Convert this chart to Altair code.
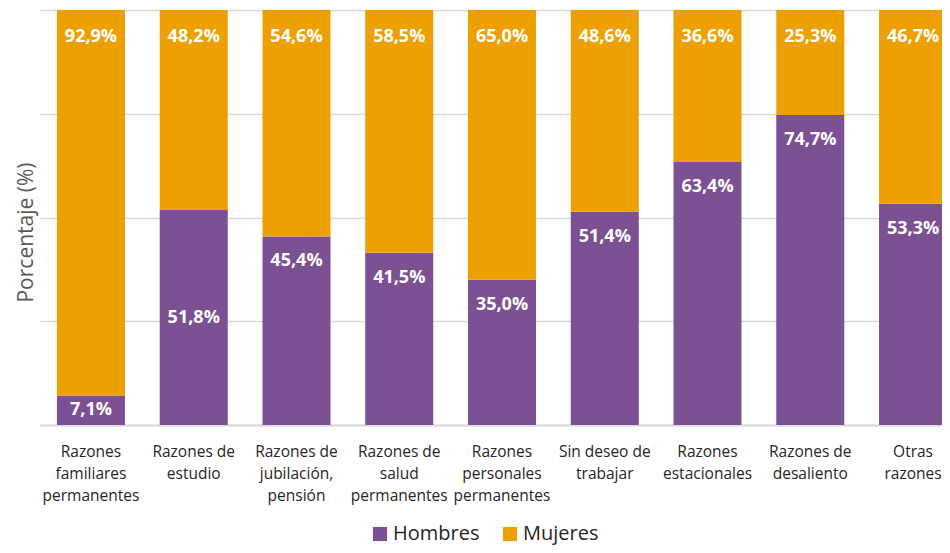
import altair as alt
import pandas as pd

categorias = [
    "Razones|familiares|permanentes",
    "Razones de|estudio",
    "Razones de|jubilación,|pensión",
    "Razones de|salud|permanentes",
    "Razones|personales|permanentes",
    "Sin deseo de|trabajar",
    "Razones|estacionales",
    "Razones de|desaliento",
    "Otras|razones",
]
hombres = [7.1, 51.8, 45.4, 41.5, 35.0, 51.4, 63.4, 74.7, 53.3]
mujeres = [92.9, 48.2, 54.6, 58.5, 65.0, 48.6, 36.6, 25.3, 46.7]
series = ["Hombres", "Mujeres"]
colores = ["#7B5194", "#EDA002"]

rows = []
for c, h, m in zip(categorias, hombres, mujeres):
    rows.append({"cat": c, "sexo": "Hombres", "val": h, "ord": 0})
    rows.append({"cat": c, "sexo": "Mujeres", "val": m, "ord": 1})
df = pd.DataFrame(rows)

FONT = "Open Sans"

x_enc = alt.X(
    "cat:N",
    sort=categorias,
    title=None,
    scale=alt.Scale(paddingInner=0.338, paddingOuter=0.165, range=[0, 924]),
    axis=alt.Axis(
        labelExpr="split(datum.label, '|')",
        labelAngle=0,
        labelFont=FONT,
        labelFontSize=15.5,
        labelColor="#262626",
        labelLineHeight=22,
        labelPadding=19,
        labelBaseline="top",
        ticks=False,
        domainColor="#d9d9d9",
        domainWidth=2,
        grid=False,
    ),
)

bars = alt.Chart(df).mark_bar().encode(
    x=x_enc,
    y=alt.Y(
        "val:Q",
        stack="zero",
        scale=alt.Scale(domain=[0, 100], nice=False),
        axis=alt.Axis(
            title="Porcentaje (%)",
            titleFont=FONT,
            titleFontSize=21,
            titleFontWeight="normal",
            titleColor="#595959",
            titleX=-4,
            titleY=222,
            labels=False,
            ticks=False,
            domain=False,
            values=[0, 25, 50, 75, 100],
            gridColor="#d9d9d9",
            gridWidth=1.5,
        ),
    ),
    color=alt.Color(
        "sexo:N",
        scale=alt.Scale(domain=series, range=colores),
        legend=alt.Legend(
            title=None,
            orient="none",
            direction="horizontal",
            legendX=330,
            legendY=514,
            symbolType="square",
            symbolSize=200,
            symbolStrokeWidth=0,
            labelFont=FONT,
            labelFontSize=20,
            labelColor="#262626",
            columnPadding=20,
            labelOffset=3,
        ),
    ),
    order=alt.Order("ord:Q"),
)

labels = alt.Chart(df).transform_calculate(
    ly="datum.sexo == 'Mujeres' ? 93.5 : ((datum.val < 12 || datum.cat == 'Razones de|estudio') ? datum.val / 2 : datum.val - 6)",
    txt="replace(format(datum.val, '.1f'), '.', ',') + '%'",
).mark_text(
    font=FONT, fontSize=18, fontWeight="bold", color="white", baseline="middle"
).encode(
    x=alt.X("cat:N", sort=categorias),
    y=alt.Y("ly:Q"),
    text="txt:N",
)

chart = alt.layer(bars, labels).properties(
    width=902,
    height=415,
    autosize=alt.AutoSizeParams(type="none"),
    padding={"left": 32, "top": 2, "right": 0, "bottom": 120},
).configure_view(stroke=None)

chart.save("out.html", embed_options={"renderer": "svg", "actions": False})
